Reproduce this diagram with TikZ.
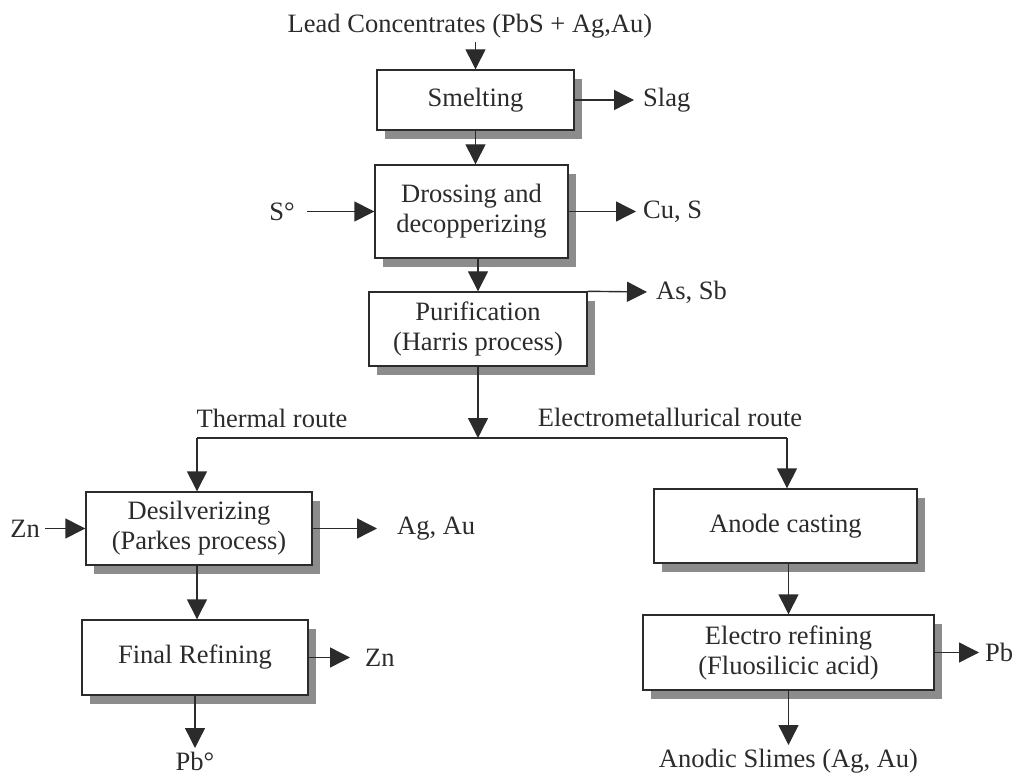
\documentclass[tikz,border=0pt]{standalone}
\usepackage{fontspec}
\setmainfont{Liberation Serif}
\usetikzlibrary{arrows.meta,calc,shadows}
\definecolor{LeadInk}{HTML}{2B2B2B}
\definecolor{LeadShadow}{HTML}{8C8C8C}
\tikzset{
  lead box/.style={
    draw=LeadInk,
    fill=white,
    text=LeadInk,
    line width=1.4pt,
    align=center,
    inner sep=0pt,
    font=\fontsize{26.5}{30}\selectfont,
    drop shadow={shadow xshift=8pt,shadow yshift=-9pt,fill=LeadShadow,opacity=1}
  },
  lead flow/.style={-{Triangle[length=20pt,width=20pt]},draw=LeadInk,line width=1.4pt},
  lead link/.style={draw=LeadInk,line width=1.4pt},
  lead label/.style={
    text=LeadInk,
    inner sep=0pt,
    font=\fontsize{26.5}{30}\selectfont
  }
}
\begin{document}
\begin{tikzpicture}[x=1pt,y=-1pt]
  \useasboundingbox (0,0) rectangle (1015,778);
  % main line
  \node[lead label,inner sep=4pt] (feed) at (470,26) {Lead Concentrates (PbS + Ag,Au)};
  \node[lead box,minimum width=197pt,minimum height=60pt] (smelt) at (475.5,100) {Smelting};
  \node[lead box,minimum width=193pt,minimum height=93pt] (dross) at (471.5,211.5) {Drossing and\\decopperizing};
  \node[lead box,minimum width=218pt,minimum height=74pt] (purif) at (478,329) {Purification\\(Harris process)};
  % thermal route
  \node[lead box,minimum width=226pt,minimum height=73pt] (desilv) at (199,528.5) {Desilverizing\\(Parkes process)};
  \node[lead box,minimum width=226pt,minimum height=75pt] (final) at (195,657.5) {Final Refining};
  % electrometallurgical route
  \node[lead box,minimum width=263pt,minimum height=74pt] (anode) at (785.5,526) {Anode casting};
  \node[lead box,minimum width=291pt,minimum height=75pt] (electro) at (788.5,652.5) {Electro refining\\(Fluosilicic acid)};

  % inputs and outputs
  \node[lead label,anchor=west,inner xsep=9pt] (slag) at (634,100) {Slag};
  \node[lead label,anchor=east,inner xsep=12pt] (sulfur) at (307,211.5) {S°};
  \node[lead label,anchor=west,inner xsep=7pt] (cus) at (636,211.5) {Cu, S};
  \node[lead label,anchor=west,inner xsep=9pt] (arsenic) at (647,292) {As, Sb};
  \node[lead label,anchor=east,inner xsep=5pt] (zninput) at (45,528.5) {Zn};
  \node[lead label,anchor=west,inner xsep=20pt] (agau) at (377,528.5) {Ag, Au};
  \node[lead label,anchor=west,inner xsep=15pt] (znout) at (350,657.5) {Zn};
  \node[lead label,anchor=north,inner sep=4pt] (pbmetal) at (195,748) {Pb°};
  \node[lead label,anchor=west,inner xsep=6pt] (pbout) at (979,652.5) {Pb};
  \node[lead label,anchor=north,inner sep=4pt] (slimes) at (788.5,745) {Anodic Slimes (Ag, Au)};

  % route split
  \coordinate (split) at (477,438);
  \coordinate (thermal) at (197,438);
  \coordinate (elroute) at (787,438);
  \node[lead label] (thermlabel) at (272,418) {Thermal route};
  \node[lead label] (eleclabel) at (670,417) {Electrometallurical route};

  \draw[lead flow] (feed.south -| smelt.north) -- (smelt.north);
  \draw[lead flow] (smelt.south) -- (smelt.south |- dross.north);
  \draw[lead flow] (dross.south -| purif.north) -- (purif.north);
  \draw[lead flow] (purif.south) -- (purif.south |- split);
  \draw[lead link] (thermal) -- (elroute);
  \draw[lead flow] (thermal) -- (thermal |- desilv.north);
  \draw[lead flow] (elroute) -- (elroute |- anode.north);
  \draw[lead flow] (desilv.south -| thermal) -- (thermal |- final.north);
  \draw[lead flow] (anode.south -| electro.north) -- (electro.north);

  \draw[lead flow] (smelt.east) -- (slag.west);
  \draw[lead flow] (sulfur.east) -- (dross.west);
  \draw[lead flow] (dross.east) -- (cus.west);
  \draw[lead flow] (purif.north east) -- (arsenic.west);
  \draw[lead flow] (zninput.east) -- (desilv.west);
  \draw[lead flow] (desilv.east) -- (agau.west);
  \draw[lead flow] (final.east) -- (znout.west);
  \draw[lead flow] (final.south) -- (pbmetal.north);
  \draw[lead flow] (electro.east) -- (pbout.west);
  \draw[lead flow] (electro.south) -- (slimes.north);
\end{tikzpicture}
\end{document}
